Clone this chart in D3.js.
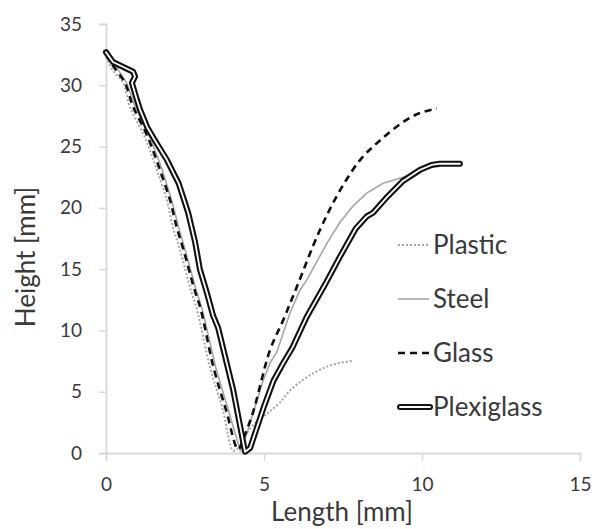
<!DOCTYPE html>
<html>
<head>
<meta charset="utf-8">
<script src="https://cdn.jsdelivr.net/npm/d3@7"></script>
<style>
  body { margin: 0; background: #fff; }
  text { font-family: Lato, "Open Sans", sans-serif; fill: #3a3a3a; }
</style>
</head>
<body>
<div id="the_chart"></div>
<script>
// values, [length mm, height mm]
var plastic = [[0,32.3],[0.22,31.2],[0.54,30.2],[0.76,28.2],[1.17,26.1],[1.39,24.7],[1.61,23.1],[1.93,20.6],
    [2.12,18.4],[2.34,16.6],[2.66,13.5],[2.88,11.7],[3.29,7.0],[3.7,3.5],[4.02,0.2],[4.15,0.3],[4.4,1.4],
    [4.7,2.4],[5.0,3.0],[5.19,3.4],[5.5,4.1],[5.82,5.1],[6.2,5.9],[6.55,6.5],[6.95,7.0],[7.3,7.3],[7.78,7.5]];
var steel = [[0,32.5],[0.35,31.4],[0.65,30.2],[0.9,28.4],[1.3,26.3],[1.55,24.7],[1.78,23.1],[2.08,20.6],
    [2.3,18.4],[2.5,16.6],[2.83,13.5],[3.05,11.7],[3.47,7.0],[3.87,3.5],[4.25,0.2],[4.46,1.6],[4.97,5.9],
    [5.2,7.4],[5.4,8.2],[5.82,11.4],[6.14,13.3],[6.35,14.1],[6.99,17.1],[7.4,18.8],[7.8,20.1],[8.25,21.2],
    [8.77,22.0],[9.4,22.5],[9.7,22.6]];
var glass = [[0,32.5],[0.3,31.3],[0.6,30.2],[0.85,28.3],[1.25,26.2],[1.5,24.6],[1.72,23.0],[2.03,20.6],
    [2.24,18.4],[2.45,16.6],[2.78,13.5],[3.0,11.7],[3.4,7.0],[3.8,3.5],[4.18,0.3],[4.35,1.2],[4.65,3.3],
    [5.19,8.4],[5.6,10.8],[6.03,13.5],[6.77,18.2],[7.4,21.4],[8.04,23.9],[8.67,25.5],[9.52,27.2],
    [10.0,27.8],[10.47,28.1]];
var plexiglass = [[0,32.7],[0.22,31.9],[0.86,31.1],[0.92,30.7],[0.82,30.2],[0.98,28.8],[1.08,28.0],
    [1.3,26.6],[1.55,25.5],[1.93,23.9],[2.3,22.0],[2.6,19.6],[2.82,17.2],[2.97,15.0],[3.2,13.0],
    [3.39,11.2],[3.55,10.2],[4.02,5.2],[4.4,0.1],[4.56,0.4],[5.0,3.8],[5.3,5.9],[5.6,7.3],[5.9,8.6],
    [6.35,11.1],[6.9,13.6],[7.4,16.0],[7.9,18.3],[8.25,19.3],[8.45,19.6],[8.9,20.9],[9.4,22.2],
    [9.94,23.1],[10.3,23.5],[10.57,23.6],[11.2,23.6]];

var names = ["Plastic", "Steel", "Glass", "Plexiglass"];
var xticks = [0, 5, 10, 15];
var yticks = [0, 5, 10, 15, 20, 25, 30, 35];

var w = 592, h = 529;

var svg = d3.select("#the_chart")
    .append("svg")
    .attr("width", w)
    .attr("height", h);

var xscale = d3.scaleLinear().domain([0, 15]).range([106, 580]);
var yscale = d3.scaleLinear().domain([0, 35]).range([453, 24]);

// axes
var yaxis = d3.axisLeft(yscale).tickValues(yticks).tickSizeOuter(0).tickSize(7).tickPadding(17);
var gy = svg.append("g").attr("transform", "translate(106,0)").call(yaxis);

var xaxis = d3.axisBottom(xscale).tickValues(xticks).tickSizeOuter(0).tickSize(8).tickPadding(17);
var gx = svg.append("g").attr("transform", "translate(0,453)").call(xaxis);

[gx, gy].forEach(function(g) {
    g.select(".domain").attr("stroke", "#d9d9d9").attr("stroke-width", 1.8);
    g.selectAll(".tick line").attr("stroke", "#d9d9d9").attr("stroke-width", 1.5);
    g.selectAll(".tick text").style("font-size", "19px").attr("fill", "#3a3a3a");
});

// axis titles
svg.append("text")
    .attr("x", 342).attr("y", 521)
    .attr("text-anchor", "middle")
    .style("font-size", "26px")
    .text("Length [mm]");

svg.append("text")
    .attr("transform", "translate(35,257) rotate(-90)")
    .attr("text-anchor", "middle")
    .style("font-size", "26px")
    .text("Height [mm]");

var line = d3.line()
    .x(function(d) { return xscale(d[0]); })
    .y(function(d) { return yscale(d[1]); });

var smooth = d3.line()
    .x(function(d) { return xscale(d[0]); })
    .y(function(d) { return yscale(d[1]); })
    .curve(d3.curveCatmullRom.alpha(0.5));

// series
svg.append("path").datum(steel)
    .attr("d", line).attr("fill", "none")
    .attr("stroke", "#a6a6a6").attr("stroke-width", 1.6);

svg.append("path").datum(plastic)
    .attr("d", smooth).attr("fill", "none")
    .attr("stroke", "#a6a6a6").attr("stroke-width", 2)
    .attr("stroke-dasharray", "2,2");

svg.append("path").datum(glass)
    .attr("d", smooth).attr("fill", "none")
    .attr("stroke", "#111").attr("stroke-width", 2.6)
    .attr("stroke-dasharray", "7,5");

// plexiglass: black outline with white core
svg.append("path").datum(plexiglass)
    .attr("d", line).attr("fill", "none")
    .attr("stroke", "#111").attr("stroke-width", 6)
    .attr("stroke-linejoin", "round").attr("stroke-linecap", "round");
svg.append("path").datum(plexiglass)
    .attr("d", line).attr("fill", "none")
    .attr("stroke", "#fff").attr("stroke-width", 1.8)
    .attr("stroke-linejoin", "round").attr("stroke-linecap", "round");

// legend
var legy = d3.scalePoint().domain(names).range([245, 407]);
var leg = svg.selectAll(".leg")
    .data(names)
    .enter().append("g")
    .attr("class", "leg")
    .attr("transform", function(d) { return "translate(0," + legy(d) + ")"; });

leg.each(function(d) {
    var g = d3.select(this);
    if (d == "Plastic") {
        g.append("line").attr("x1", 398).attr("x2", 429)
            .attr("stroke", "#a6a6a6").attr("stroke-width", 2).attr("stroke-dasharray", "2,2");
    } else if (d == "Steel") {
        g.append("line").attr("x1", 398).attr("x2", 429)
            .attr("stroke", "#a6a6a6").attr("stroke-width", 1.6);
    } else if (d == "Glass") {
        g.append("line").attr("x1", 398).attr("x2", 429)
            .attr("stroke", "#111").attr("stroke-width", 2.6).attr("stroke-dasharray", "7,5");
    } else {
        g.append("line").attr("x1", 400).attr("x2", 430)
            .attr("stroke", "#111").attr("stroke-width", 6).attr("stroke-linecap", "round");
        g.append("line").attr("x1", 400).attr("x2", 430)
            .attr("stroke", "#fff").attr("stroke-width", 1.8).attr("stroke-linecap", "round");
    }
    g.append("text").attr("x", 433).attr("dy", "0.36em")
        .style("font-size", "26px")
        .text(d);
});
</script>
</body>
</html>
